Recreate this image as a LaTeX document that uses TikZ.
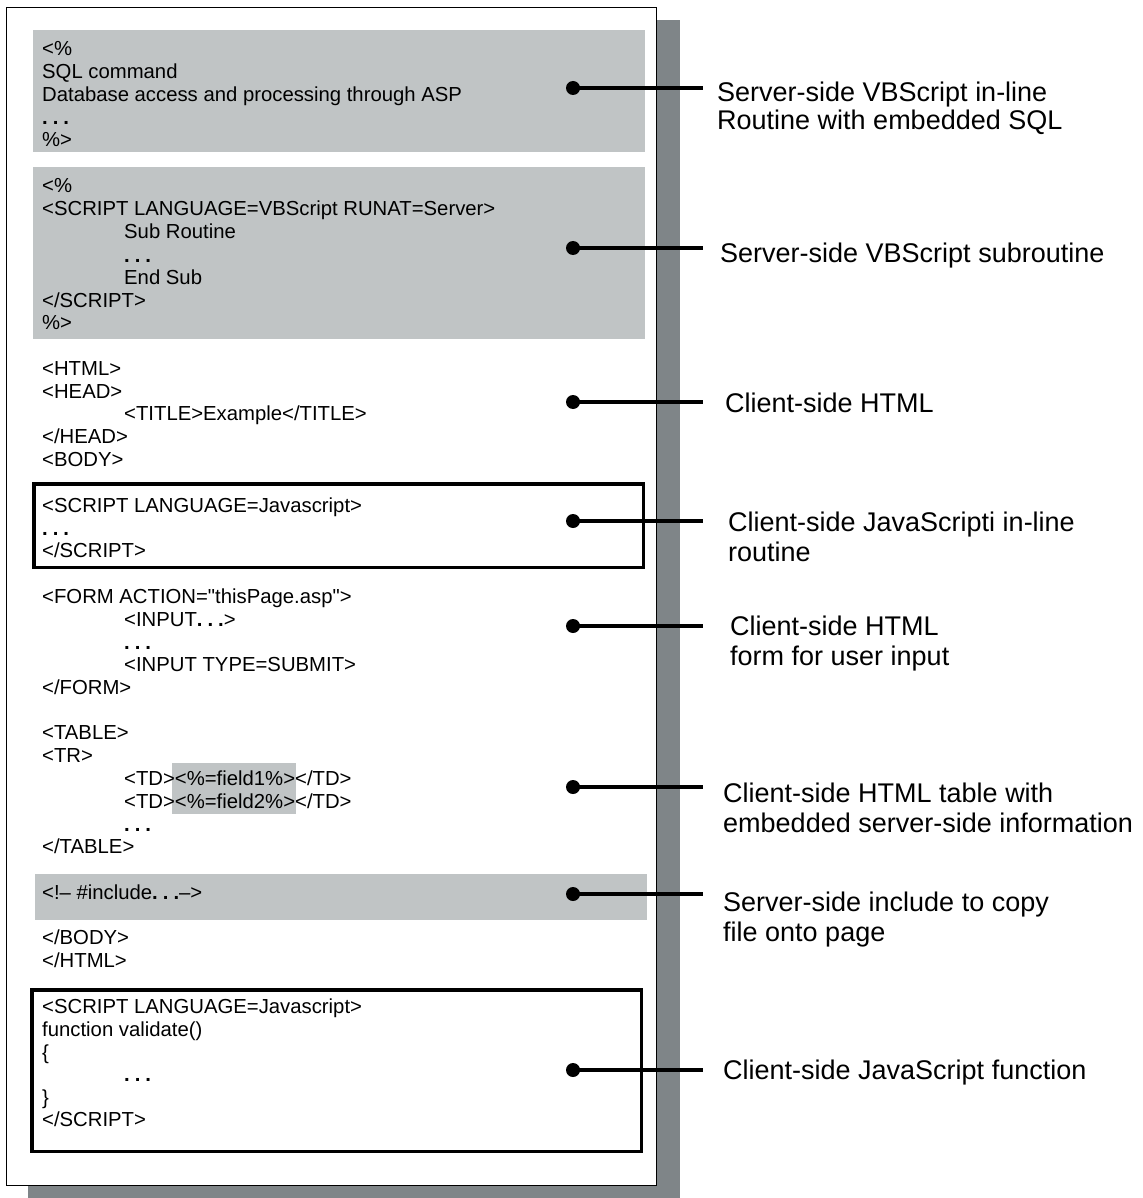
\documentclass[tikz,border=0pt]{standalone}
\usepackage{fontspec}
\setmainfont{Liberation Sans}
\newfontfamily\codefont{Liberation Sans}[Ligatures=TeXOff]
\definecolor{boxgray}{HTML}{C0C4C5}
\definecolor{shadowgray}{HTML}{7F8588}
\newcounter{lnc}
\newcommand\cl[3]{\stepcounter{lnc}\node[codetext] (line\thelnc) at (#1,-#2) {#3};}
\newcommand\ddd{\textbf{.\hspace{5pt}.\hspace{5pt}.}}
\begin{document}
\begin{tikzpicture}[x=1pt,y=1pt,
 codetext/.style={anchor=base west, inner sep=0pt, font=\codefont\fontsize{20.3}{22.75}\selectfont},
 labeltext/.style={anchor=west, inner sep=0pt, align=left, font=\fontsize{27}{30}\selectfont},
 dotnode/.style={circle, fill=black, inner sep=0pt, minimum size=14pt},
 conn/.style={line width=4.5pt},
 graybox/.style={fill=boxgray, draw=none},
 blackbox/.style={draw=black, line width=3.5pt},
]
\useasboundingbox (0,0) rectangle (1142,-1198);
% shadow and page
\fill[shadowgray] (28,-20) rectangle (680,-1198);
\draw[fill=white, line width=1pt] (6,-8) rectangle (656,-1185);
% gray boxes
\fill[boxgray] (33,-30) rectangle (645,-152);
\fill[boxgray] (33,-167) rectangle (645,-339);
\fill[boxgray] (35,-874) rectangle (647,-920);
\fill[boxgray] (172,-763) rectangle (296,-814);
% black boxes
\draw[blackbox] (33.75,-483.75) rectangle (643.25,-567.25);
\draw[blackbox] (31.75,-989.75) rectangle (641.25,-1151.25);
% code lines
\cl{42}{56}{<\%}
\cl{42}{79}{SQL command}
\cl{42}{102}{Database access and processing through ASP}
\cl{42}{125}{\ddd}
\cl{42}{147}{\%>}
\cl{42}{193}{<\%}
\cl{42}{216}{<SCRIPT LANGUAGE=VBScript RUNAT=Server>}
\cl{124}{239}{Sub Routine}
\cl{124}{262}{\ddd}
\cl{124}{284}{End Sub}
\cl{42}{307}{</SCRIPT>}
\cl{42}{329}{\%>}
\cl{42}{375}{<HTML>}
\cl{42}{398}{<HEAD>}
\cl{124}{420}{<TITLE>Example</TITLE>}
\cl{42}{443}{</HEAD>}
\cl{42}{466}{<BODY>}
\cl{42}{512}{<SCRIPT LANGUAGE=Javascript>}
\cl{42}{535}{\ddd}
\cl{42}{557}{</SCRIPT>}
\cl{42}{603}{<FORM ACTION="thisPage.asp">}
\cl{124}{626}{<INPUT\ddd>}
\cl{124}{649}{\ddd}
\cl{124}{671}{<INPUT TYPE=SUBMIT>}
\cl{42}{694}{</FORM>}
\cl{42}{739}{<TABLE>}
\cl{42}{762}{<TR>}
\cl{124}{785}{<TD><\%=field1\%></TD>}
\cl{124}{808}{<TD><\%=field2\%></TD>}
\cl{124}{831}{\ddd}
\cl{42}{853}{</TABLE>}
\cl{42}{899}{<!– \#include\ddd–>}
\cl{42}{944}{</BODY>}
\cl{42}{967}{</HTML>}
\cl{42}{1013}{<SCRIPT LANGUAGE=Javascript>}
\cl{42}{1036}{function validate()}
\cl{42}{1059}{\{}
\cl{124}{1081}{\ddd}
\cl{42}{1104}{\}}
\cl{42}{1126}{</SCRIPT>}
% connectors
\foreach \i/\y in {1/88,2/248,3/402,4/521,5/626,6/787,7/894,8/1070}{
  \node[dotnode] (d\i) at (573,-\y) {};
  \coordinate (e\i) at (703,-\y);
  \draw[conn] (d\i.center) -- (e\i);
}
% labels
\node[labeltext, font=\fontsize{27}{28.5}\selectfont] (l1) at (717,-108.5) {Server-side VBScript in-line\\Routine with embedded SQL};
\node[labeltext] (l2) at (720,-256) {Server-side VBScript subroutine};
\node[labeltext] (l3) at (725,-403) {Client-side HTML};
\node[labeltext] (l4) at (728,-537) {Client-side JavaScripti in-line\\routine};
\node[labeltext] (l5) at (730,-644) {Client-side HTML\\form for user input};
\node[labeltext] (l6) at (723,-808) {Client-side HTML table with\\embedded server-side information};
\node[labeltext] (l7) at (723,-920) {Server-side include to copy\\file onto page};
\node[labeltext] (l8) at (723,-1073) {Client-side JavaScript function};
\end{tikzpicture}
\end{document}
